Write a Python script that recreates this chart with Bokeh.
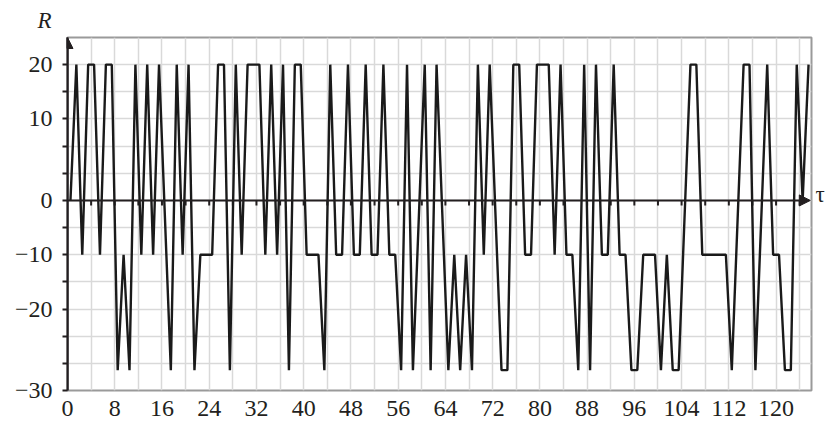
from bokeh.plotting import figure
from bokeh.models import FixedTicker, Arrow, NormalHead, Range1d, Title, LinearAxis
from bokeh.embed import file_html
from bokeh.resources import INLINE

# ---- data ----
tau = [0.5, 1.5, 2.5, 3.5, 4.5, 5.5, 6.5, 7.5, 8.5, 9.5,
       10.5, 11.5, 12.5, 13.5, 14.5, 15.5, 17.5, 18.5, 19.5, 20.5,
       21.5, 22.5, 23.5, 24.5, 25.5, 26.5, 27.5, 28.5, 29.5, 30.5,
       31.5, 32.5, 33.5, 34.5, 35.5, 36.5, 37.5, 38.5, 39.5, 40.5,
       41.5, 42.5, 43.5, 44.5, 45.5, 46.5, 47.5, 48.5, 49.5, 50.5,
       51.5, 52.5, 53.5, 54.5, 55.5, 56.5, 57.5, 58.5, 60.5, 61.5,
       62.5, 64.5, 65.5, 66.5, 67.5, 68.5, 69.5, 70.5, 71.5, 73.5,
       74.5, 75.5, 76.5, 77.5, 78.5, 79.5, 80.5, 81.5, 82.5, 83.5,
       84.5, 85.5, 86.5, 87.5, 88.5, 89.5, 90.5, 91.5, 92.5, 93.5,
       94.5, 95.5, 96.5, 97.5, 98.5, 99.5, 100.5, 101.5, 102.5, 103.5,
       105.5, 106.5, 107.5, 108.5, 109.5, 110.5, 111.5, 112.5, 114.5, 115.5,
       116.5, 118.5, 119.5, 120.5, 121.5, 122.5, 123.5, 124.5, 125.5]
R = [0, 20, -8, 20, 20, -8, 20, 20, -25, -8,
     -25, 20, -8, 20, -8, 20, -25, 20, -8, 20,
     -25, -8, -8, -8, 20, 20, -25, 20, -8, 20,
     20, 20, -8, 20, -8, 20, -25, 20, 20, -8,
     -8, -8, -25, 20, -8, -8, 20, -8, -8, 20,
     -8, -8, 20, -8, -8, -25, 20, -25, 20, -25,
     20, -25, -8, -25, -8, -25, 20, -8, 20, -25,
     -25, 20, 20, -8, -8, 20, 20, 20, -8, 20,
     -8, -8, -25, 20, -25, 20, -8, -8, 20, -8,
     -8, -25, -25, -8, -8, -8, -25, -8, -25, -25,
     20, 20, -8, -8, -8, -8, -8, -25, 20, 20,
     -25, 20, -8, -8, -25, -25, 20, 0, 20]

x_label_ticks = list(range(0, 121, 8))
x_grid_ticks = list(range(0, 125, 4))
y_grid_ticks = list(range(-28, 21, 4))
y_tick_labels = {20: "20", 12: "10", 0: "0", -8: "\u221210", -16: "\u221220", -28: "\u221230"}

FONT = "Liberation Serif"
INK = "#231f20"

p = figure(width=827, height=421,
           x_range=Range1d(0, 126), y_range=Range1d(-28, 24),
           output_backend="svg", toolbar_location=None,
           min_border_left=67, min_border_right=11,
           min_border_top=37, min_border_bottom=31)

p.outline_line_color = "#9a9a9a"
p.outline_line_width = 2

p.xgrid.ticker = FixedTicker(ticks=x_grid_ticks)
p.ygrid.ticker = FixedTicker(ticks=y_grid_ticks)
for g in (p.xgrid, p.ygrid):
    g.grid_line_color = "#d9d9d9"
    g.grid_line_width = 1.5

xa = p.xaxis[0]
xa.ticker = FixedTicker(ticks=x_label_ticks)
xa.axis_line_color = None
xa.major_tick_line_color = None
xa.minor_tick_line_color = None
xa.major_label_text_font = FONT
xa.major_label_text_font_size = "24px"
xa.major_label_text_color = INK
xa.major_label_standoff = 4

ya = p.yaxis[0]
ya.ticker = FixedTicker(ticks=y_grid_ticks)
ya.major_label_overrides = {t: y_tick_labels.get(t, "") for t in y_grid_ticks}
ya.axis_line_color = INK
ya.axis_line_width = 2
ya.major_tick_line_color = INK
ya.major_tick_line_width = 2
ya.major_tick_out = 5
ya.major_tick_in = 0
ya.minor_tick_line_color = None
ya.major_label_text_font = FONT
ya.major_label_text_font_size = "24px"
ya.major_label_text_color = INK
ya.major_label_standoff = 10

# axis name "tau" at the right end of the tau axis (second blank line lifts it to the axis)
tau_axis = LinearAxis(ticker=FixedTicker(ticks=[]),
                      axis_line_color=None, major_tick_line_color=None,
                      minor_tick_line_color=None, major_tick_out=0, major_tick_in=0,
                      major_label_standoff=0,
                      axis_label="\u03c4\n\u00a0", axis_label_orientation="horizontal",
                      axis_label_standoff=4, axis_label_text_font=FONT,
                      axis_label_text_font_style="normal",
                      axis_label_text_line_height=1.6,
                      axis_label_text_font_size="23px", axis_label_text_color=INK)
p.add_layout(tau_axis, "right")

# axis name "R" above the R axis
p.add_layout(Title(text="R", align="left", offset=-30, standoff=10,
                   text_font=FONT, text_font_style="italic",
                   text_font_size="23px", text_color=INK), "above")

# small ticks on the tau axis
tick_x = x_grid_ticks[1:]
p.segment(x0=tick_x, y0=[0] * len(tick_x), x1=tick_x, y1=[-0.75] * len(tick_x),
          line_color=INK, line_width=2)

# tau axis with arrow
p.add_layout(Arrow(end=NormalHead(size=11, fill_color=INK, line_color=INK),
                   x_start=0, y_start=0, x_end=125.8, y_end=0,
                   line_color=INK, line_width=2))
# R axis arrow
p.add_layout(Arrow(end=NormalHead(size=11, fill_color=INK, line_color=INK),
                   x_start=0, y_start=-28, x_end=0, y_end=24,
                   line_color=INK, line_width=2))

p.line(tau, R, line_color="#1a1a1a", line_width=2.4)

open("out.html", "w").write(file_html(p, INLINE))
